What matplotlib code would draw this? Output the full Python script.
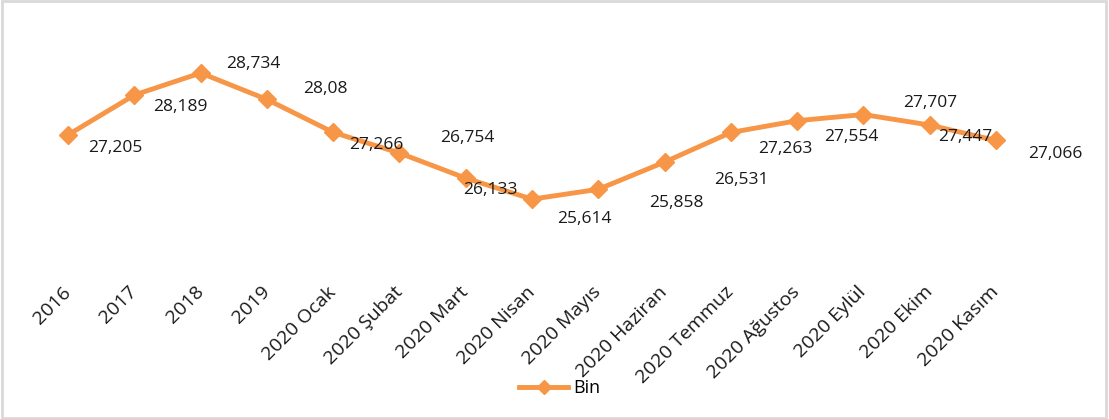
import matplotlib
matplotlib.use('Agg')
from matplotlib import pyplot as plt
from matplotlib.patches import Rectangle

# veriler
kategoriler = ['2016', '2017', '2018', '2019', '2020 Ocak', '2020 Şubat', '2020 Mart',
               '2020 Nisan', '2020 Mayıs', '2020 Haziran', '2020 Temmuz', '2020 Ağustos',
               '2020 Eylül', '2020 Ekim', '2020 Kasım']
degerler = [27.205, 28.189, 28.734, 28.08, 27.266, 26.754, 26.133, 25.614, 25.858,
            26.531, 27.263, 27.554, 27.707, 27.447, 27.066]
etiketler = ['27,205', '28,189', '28,734', '28,08', '27,266', '26,754', '26,133', '25,614',
             '25,858', '26,531', '27,263', '27,554', '27,707', '27,447', '27,066']

# etiket kaymalari (piksel, x saga, y yukari)
kaymalar = [(47, -13), (46, -12), (53, 9), (58, 10), (43, -13), (68, 15), (25, -12),
            (52, -20), (78, -14), (77, -18), (55, -17), (54, -16), (67, 12), (36, -12),
            (59, -14)]

plt.rcParams['font.family'] = ['Open Sans', 'DejaVu Sans']
turuncu = '#F79646'
yazi = '#1a1a1a'

W, H = 1109, 419
fig = plt.figure(figsize=(W / 100, H / 100), dpi=100)

# eksen: x 35..1029 px, y 42..224 px (ustten)
ax = fig.add_axes([35 / W, 1 - 224 / H, (1029 - 35) / W, (224 - 42) / H])
x = list(range(len(kategoriler)))
line, = ax.plot(x, degerler, color=turuncu, lw=3.5, marker='D', ms=9,
                markeredgecolor=turuncu, label='Bin')
ax.set_xlim(-0.5, len(kategoriler) - 0.5)
ax.set_ylim(25.0, 29.5)

for i, (v, t) in enumerate(zip(degerler, etiketler)):
    ax.annotate(t, (i, v), xytext=kaymalar[i], textcoords='offset pixels',
                ha='center', va='center', fontsize=12.5, color=yazi)

ax.set_xticks(x)
ax.set_xticklabels(kategoriler, rotation=45, ha='right', va='center',
                   rotation_mode='anchor', fontsize=14, color=yazi)
ax.tick_params(axis='x', length=0, pad=47)
ax.set_yticks([])
for s in ax.spines.values():
    s.set_visible(False)

fig.legend(handles=[line], loc='center', bbox_to_anchor=(560 / W, 1 - 388 / H),
           frameon=False, fontsize=13, handlelength=2.7, handletextpad=0.3,
           markerscale=0.8)

# dis cerceve
fig.patches.append(Rectangle((0.002, 0.003), 0.995, 0.994, transform=fig.transFigure,
                             fill=False, edgecolor='#D9D9D9', lw=2))

fig.savefig('out.png', dpi=100)
